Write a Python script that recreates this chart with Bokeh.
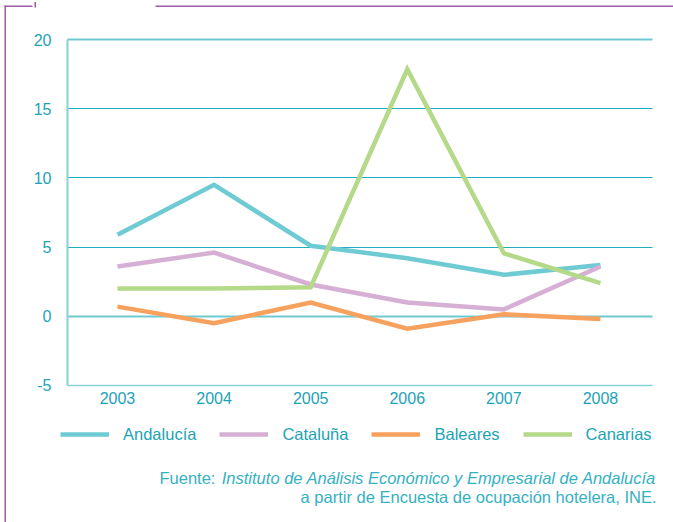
from bokeh.plotting import figure
from bokeh.models import (BoxAnnotation, Label, Legend, LegendItem, Grid,
                          FixedTicker, Range1d)
from bokeh.embed import file_html
from bokeh.resources import INLINE

years = [2003, 2004, 2005, 2006, 2007, 2008]
andalucia = [5.9, 9.5, 5.1, 4.2, 3.0, 3.7]
cataluna = [3.6, 4.6, 2.3, 1.0, 0.5, 3.6]
baleares = [0.7, -0.5, 1.0, -0.9, 0.15, -0.2]
canarias = [2.0, 2.0, 2.1, 17.85, 4.55, 2.4]
y_ticks = [-5, 0, 5, 10, 15, 20]
inner_ticks = [5, 10, 15]
edge_ticks = [0, 20]

series = [("Andalucía", andalucia, "#6fcbd3"),
          ("Cataluña", cataluna, "#d5afd4"),
          ("Baleares", baleares, "#f7a15e"),
          ("Canarias", canarias, "#b4d988")]

TEAL = "#1ea3b6"
FONT = "Liberation Sans"
W, H = 673, 522

# plotting area bounds (data units)
X0, X1 = 2002.482, 2008.538
Y0, Y1 = -5, 20

p = figure(width=W, height=H, output_backend="svg", toolbar_location=None,
           x_range=Range1d(2001.789, 2008.756),
           y_range=Range1d(-14.899, 22.818),
           min_border=0, min_border_left=0, min_border_right=0,
           min_border_top=0, min_border_bottom=0)
p.outline_line_color = None
p.background_fill_color = "white"
p.border_fill_color = "white"

xa, ya = p.xaxis[0], p.yaxis[0]
xa.fixed_location = Y0
ya.fixed_location = X0
xa.bounds = (X0, X1)
ya.bounds = (Y0, Y1)
xa.ticker = FixedTicker(ticks=years)
ya.ticker = FixedTicker(ticks=y_ticks)
ya.major_label_overrides = {t: str(t) for t in y_ticks}
for ax in (xa, ya):
    ax.major_tick_line_color = None
    ax.minor_tick_line_color = None
    ax.major_label_text_color = TEAL
    ax.major_label_text_font = FONT
    ax.major_label_text_font_size = "16px"
    ax.axis_line_color = "#86d2da"
xa.axis_line_width = 1.5
ya.axis_line_width = 2
xa.major_label_standoff = 1
ya.major_label_standoff = 10

p.xgrid.grid_line_color = None
has_cb = "cross_bounds" in Grid.properties()
g1 = p.ygrid[0]
g1.ticker = FixedTicker(ticks=inner_ticks)
g1.grid_line_color = "#22adbf"
g1.grid_line_width = 1
g2 = Grid(dimension=1, ticker=FixedTicker(ticks=edge_ticks),
          grid_line_color="#6fc9d1", grid_line_width=2, level="underlay")
p.add_layout(g2)
if has_cb:
    g1.cross_bounds = (X0, X1)
    g2.cross_bounds = (X0, X1)
else:
    g1.grid_line_color = None
    g2.grid_line_color = None
    p.segment(x0=[X0] * 3, x1=[X1] * 3, y0=inner_ticks, y1=inner_ticks,
              line_color="#22adbf", line_width=1)
    p.segment(x0=[X0] * 2, x1=[X1] * 2, y0=edge_ticks, y1=edge_ticks,
              line_color="#6fc9d1", line_width=2)

items = []
for name, vals, col in series:
    r = p.line(years, vals, line_color=col, line_width=4.5, line_join="miter")
    items.append(LegendItem(label=name, renderers=[r]))

legend = Legend(items=items, orientation="horizontal", location=(60, 78),
                glyph_width=49, glyph_height=20, label_height=20,
                label_standoff=14, spacing=23, padding=0, margin=0,
                border_line_color=None, background_fill_alpha=0,
                label_text_color=TEAL, label_text_font=FONT,
                label_text_font_size="16.5px")
p.add_layout(legend)

# purple page frame decoration
PURPLE = "#a05aa8"
def cbox(l, r, t, b):
    return BoxAnnotation(left=l, right=r, top=t, bottom=b,
                         left_units="canvas", right_units="canvas",
                         top_units="canvas", bottom_units="canvas",
                         fill_color=PURPLE, fill_alpha=1, line_color=None,
                         level="overlay")
p.add_layout(cbox(4, 5.5, 5, H))
p.add_layout(cbox(4, 32, 5, 6.5))
p.add_layout(cbox(34, 35.5, 1.5, 7))
p.add_layout(cbox(155, W, 5, 6.5))

# source note
SRC = "#35b1c2"
SRC_SIZE = "16.5px"
p.add_layout(Label(x=159, y=45, x_units="screen", y_units="screen",
                   text="Fuente:", text_align="left", text_baseline="middle",
                   text_color=SRC, text_font=FONT, text_font_size=SRC_SIZE))
p.add_layout(Label(x=656, y=45, x_units="screen", y_units="screen",
                   text="Instituto de Análisis Económico y Empresarial de Andalucía",
                   text_align="right", text_baseline="middle",
                   text_font_style="italic",
                   text_color=SRC, text_font=FONT, text_font_size=SRC_SIZE))
p.add_layout(Label(x=656, y=26, x_units="screen", y_units="screen",
                   text="a partir de Encuesta de ocupación hotelera, INE.",
                   text_align="right", text_baseline="middle",
                   text_color=SRC, text_font=FONT, text_font_size=SRC_SIZE))

open("out.html", "w").write(file_html(p, INLINE))
